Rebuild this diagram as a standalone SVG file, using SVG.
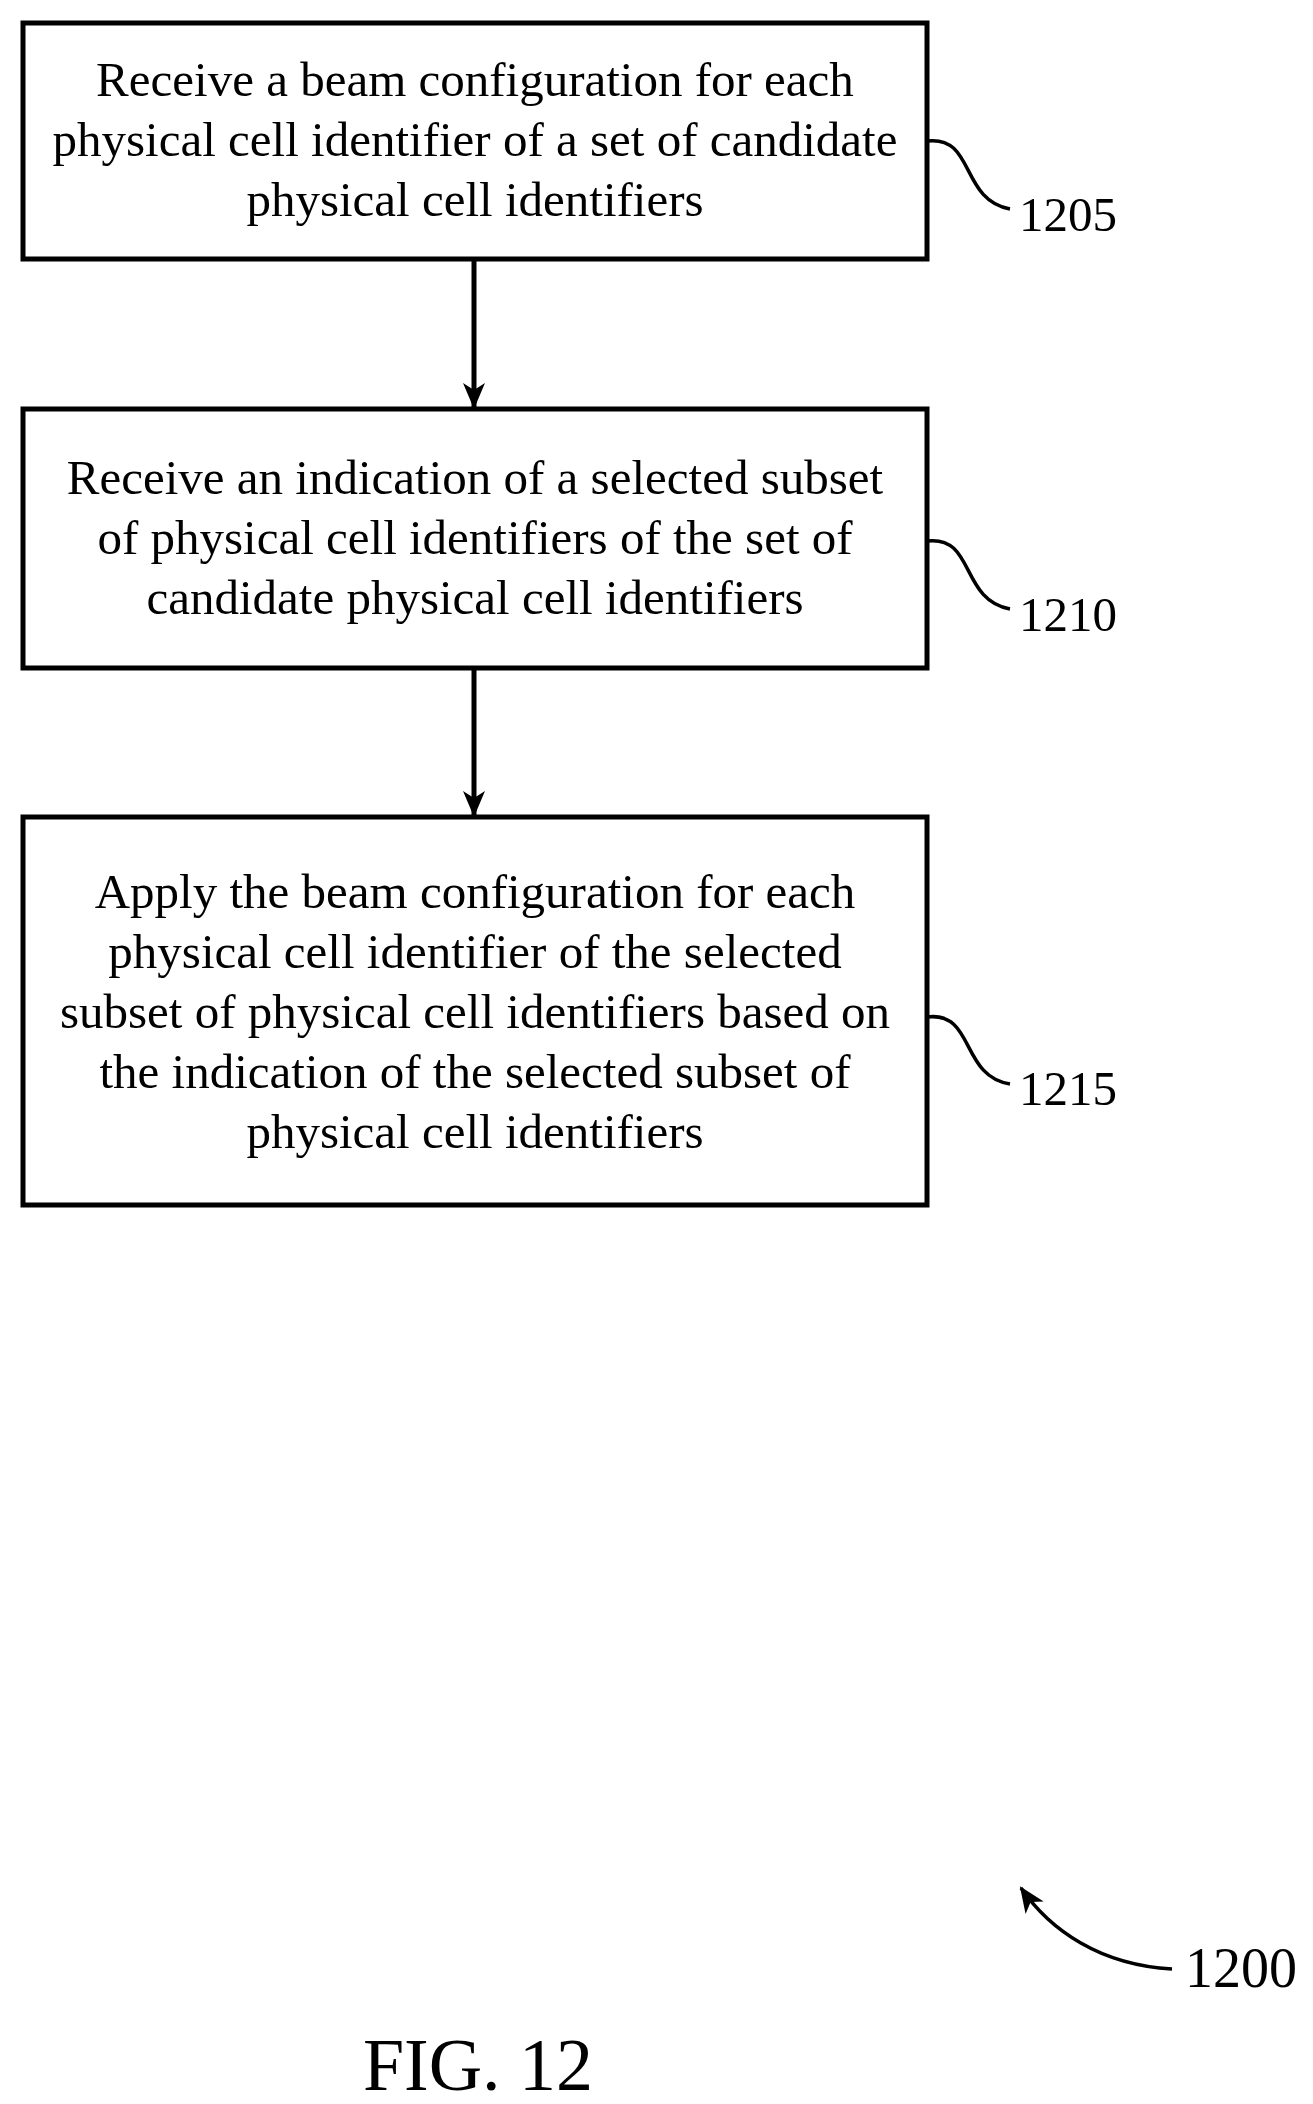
<svg xmlns="http://www.w3.org/2000/svg" width="1313" height="2104" viewBox="0 0 1313 2104">
<defs>
<style>
.box{fill:#fff;stroke:#000;stroke-width:5}
.t{font-family:"Liberation Serif","Times New Roman",serif;font-size:49px;fill:#000;text-anchor:middle}
.l{font-family:"Liberation Serif","Times New Roman",serif;font-size:49px;fill:#000}
.c{fill:none;stroke:#000;stroke-width:3.5}
</style>
<marker id="ah2" markerWidth="30" markerHeight="30" refX="24" refY="15" orient="auto" markerUnits="userSpaceOnUse" viewBox="0 0 30 30"><path d="M0,4 L26,15 L0,26 L7,15 Z" fill="#000"/></marker>
</defs>
<rect width="1313" height="2104" fill="#fff"/>
<g id="n1205">
<rect class="box" x="23" y="23" width="904" height="236"/>
<text class="t" x="475" y="96">Receive a beam configuration for each</text>
<text class="t" x="475" y="156">physical cell identifier of a set of candidate</text>
<text class="t" x="475" y="216">physical cell identifiers</text>
<path class="c" d="M927,141 C975,135 960,200 1010,209"/>
<text class="l" x="1019" y="231">1205</text>
</g>
<g id="n1210">
<rect class="box" x="23" y="409" width="904" height="259"/>
<text class="t" x="475" y="494">Receive an indication of a selected subset</text>
<text class="t" x="475" y="554">of physical cell identifiers of the set of</text>
<text class="t" x="475" y="614">candidate physical cell identifiers</text>
<path class="c" d="M927,541 C975,535 960,600 1010,609"/>
<text class="l" x="1019" y="631">1210</text>
</g>
<g id="n1215">
<rect class="box" x="23" y="817" width="904" height="388"/>
<text class="t" x="475" y="908">Apply the beam configuration for each</text>
<text class="t" x="475" y="968">physical cell identifier of the selected</text>
<text class="t" x="475" y="1028">subset of physical cell identifiers based on</text>
<text class="t" x="475" y="1088">the indication of the selected subset of</text>
<text class="t" x="475" y="1148">physical cell identifiers</text>
<path class="c" d="M927,1017 C975,1011 960,1076 1010,1084"/>
<text class="l" x="1019" y="1105">1215</text>
</g>
<g id="connectors">
<line x1="474" y1="259" x2="474" y2="407" stroke="#000" stroke-width="5" marker-end="url(#ah2)"/>
<line x1="474" y1="668" x2="474" y2="815" stroke="#000" stroke-width="5" marker-end="url(#ah2)"/>
</g>
<g id="n1200">
<path class="c" d="M1172,1969 C1100,1965 1050,1930 1021,1888" marker-end="url(#ah2)"/>
<text class="l" x="1185" y="1987" style="font-size:56px">1200</text>
</g>
<text class="t" x="478" y="2090" style="font-size:74px">FIG. 12</text>
</svg>
